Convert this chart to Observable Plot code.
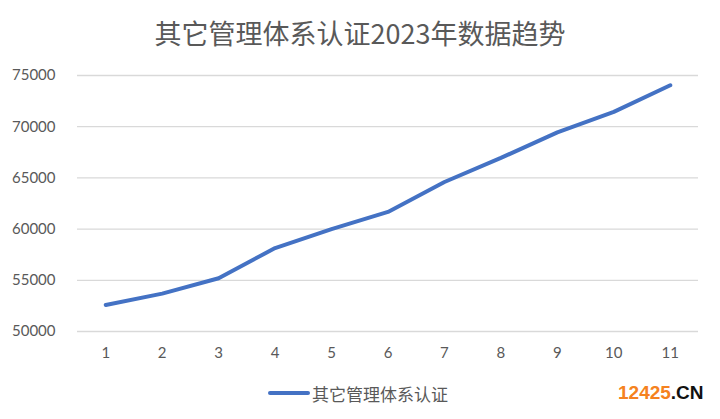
<!DOCTYPE html>
<html>
<head>
<meta charset="utf-8">
<script src="https://cdn.jsdelivr.net/npm/d3@7"></script>
<script src="https://cdn.jsdelivr.net/npm/@observablehq/plot@0.6"></script>
<style>
  body { margin:0; background:#fff; width:720px; height:419px; position:relative; overflow:hidden;
         font-family: Lato, "Noto Sans CJK SC", sans-serif; }
  #title { position:absolute; top:13px; left:0; width:720px; text-align:center; font-size:27px; line-height:40px;
           color:#595959; font-family:"Noto Sans CJK SC", Lato, sans-serif; }
  #chart { position:absolute; top:0; left:0; }
  #legend { position:absolute; top:381px; left:268px; display:flex; align-items:center; height:24px;
            font-size:17px; color:#595959; font-family:"Noto Sans CJK SC", sans-serif; }
  #legend .sw { width:42px; height:4px; background:#4472C4; border-radius:2px; margin-right:2px; }
  #wm { position:absolute; top:381px; left:618px; height:24px; line-height:24px; font-size:19px; font-weight:bold;
        font-family:"Liberation Sans", Arial, sans-serif; letter-spacing:0px; }
</style>
</head>
<body>
<div id="title"></div>
<div id="chart"></div>
<div id="legend"><div class="sw"></div><span id="legtext"></span></div>
<div id="wm"><span style="color:#f58220">12425</span><span style="color:#111">.CN</span></div>
<script>
const titleText = "其它管理体系认证2023年数据趋势";
const seriesName = "其它管理体系认证";
const months = [1, 2, 3, 4, 5, 6, 7, 8, 9, 10, 11];
const values = [52590, 53700, 55200, 58150, 60000, 61680, 64600, 66950, 69450, 71450, 74050];
const yTicks = [50000, 55000, 60000, 65000, 70000, 75000];

document.getElementById("title").textContent = titleText;
document.getElementById("legtext").textContent = seriesName;

const data = months.map((m, i) => ({month: m, value: values[i]}));

const chart = Plot.plot({
  width: 720,
  height: 370,
  marginTop: 75,
  marginBottom: 39,
  marginLeft: 77,
  marginRight: 22,
  style: {fontFamily: "Lato, 'Noto Sans', sans-serif", fontSize: "15px", color: "#595959", background: "transparent"},
  x: {domain: [0.5, 11.5], ticks: months, tickFormat: d => String(d), tickSize: 0, tickPadding: 16, label: null},
  y: {domain: [50000, 75000], ticks: yTicks, tickFormat: d => String(d), tickSize: 0, tickPadding: 22, label: null},
  marks: [
    Plot.gridY(yTicks, {stroke: "#d9d9d9", strokeOpacity: 1, strokeWidth: 1.3}),
    Plot.axisX({ticks: months, tickSize: 0, tickPadding: 16, tickFormat: d => String(d), fill: "#595959", label: null}),
    Plot.axisY({ticks: yTicks, tickSize: 0, tickPadding: 22, tickFormat: d => String(d), fill: "#595959", label: null}),
    Plot.line(data, {x: "month", y: "value", stroke: "#4472C4", strokeWidth: 4, strokeLinecap: "round", strokeLinejoin: "round"})
  ]
});
document.getElementById("chart").appendChild(chart);
</script>
</body>
</html>
